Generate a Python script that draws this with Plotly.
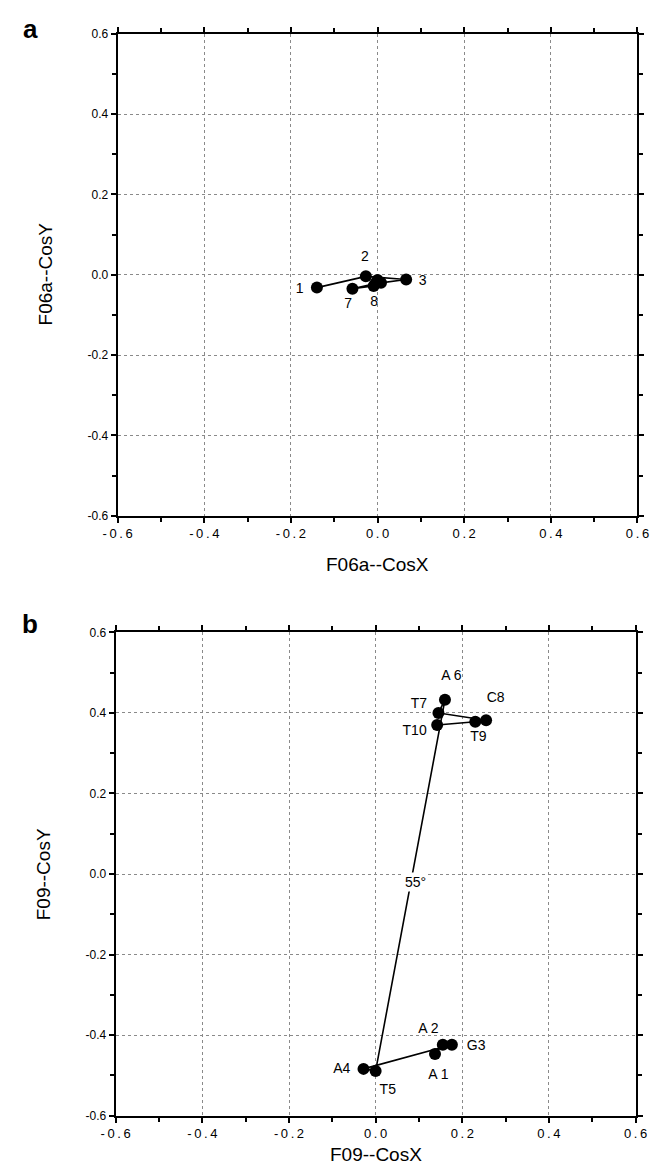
import plotly.graph_objects as go

# Panel a: F06a direction cosines, residues 1-8
a_labels = ["1", "2", "3", "4", "5", "6", "7", "8"]
a_x = [-0.140, -0.027, 0.066, 0.008, 0.000, -0.005, -0.058, -0.009]
a_y = [-0.032, -0.004, -0.012, -0.020, -0.013, -0.022, -0.035, -0.028]
a_shown = ["1", "2", "3", "7", "8"]
a_lab_x = [-0.180, -0.029, 0.104, -0.068, -0.008]
a_lab_y = [-0.037, 0.042, -0.017, -0.074, -0.070]

# Panel b: F09 direction cosines, residues A1-T10
b_labels = ["A 1", "A 2", "G3", "A4", "T5", "A 6", "T7", "C8", "T9", "T10"]
b_x = [0.137, 0.155, 0.176, -0.028, 0.000, 0.160, 0.145, 0.255, 0.230, 0.142]
b_y = [-0.447, -0.424, -0.424, -0.484, -0.489, 0.433, 0.400, 0.382, 0.378, 0.370]
b_lab_x = [0.145, 0.122, 0.232, -0.078, 0.028, 0.175, 0.100, 0.277, 0.237, 0.090]
b_lab_y = [-0.500, -0.387, -0.428, -0.486, -0.537, 0.490, 0.420, 0.435, 0.338, 0.355]
angle_text = "55°"
angle_x, angle_y = 0.093, -0.020

ticks = [-0.6, -0.4, -0.2, 0.0, 0.2, 0.4, 0.6]
tick_text = ["-0.6", "-0.4", "-0.2", "0.0", "0.2", "0.4", "0.6"]

W, H = 661, 1171
FONT = "Liberation Sans, Arial, sans-serif"

fig = go.Figure()

fig.add_trace(go.Scatter(x=a_x, y=a_y, mode="lines+markers",
                         line=dict(color="black", width=1.6),
                         marker=dict(color="black", size=12),
                         xaxis="x", yaxis="y", hoverinfo="skip", showlegend=False))
fig.add_trace(go.Scatter(x=a_lab_x, y=a_lab_y, mode="text", text=a_shown,
                         textfont=dict(family=FONT, size=14, color="black"),
                         xaxis="x", yaxis="y", hoverinfo="skip", showlegend=False))

fig.add_trace(go.Scatter(x=b_x, y=b_y, mode="lines+markers",
                         line=dict(color="black", width=1.6),
                         marker=dict(color="black", size=12),
                         xaxis="x2", yaxis="y2", hoverinfo="skip", showlegend=False))
fig.add_trace(go.Scatter(x=b_lab_x, y=b_lab_y, mode="text", text=b_labels,
                         textfont=dict(family=FONT, size=14, color="black"),
                         xaxis="x2", yaxis="y2", hoverinfo="skip", showlegend=False))


def px_x(p):
    return p / W


def px_y(p):
    return 1 - p / H


panels = {
    "a": dict(l=107, r=649, t=27, b=515),
    "b": dict(l=105, r=647, t=633, b=1122),
}

common = dict(range=[-0.6, 0.6], tickmode="array", tickvals=ticks,
              showline=True, linecolor="black", linewidth=2, mirror="ticks",
              ticks="outside", ticklen=5, tickwidth=1.5, tickcolor="black",
              minor=dict(dtick=0.1, ticks="outside", ticklen=4, tickwidth=1.5,
                         tickcolor="black", showgrid=False),
              showgrid=True, gridcolor="#8a8a8a", gridwidth=0.8, griddash="dot",
              zeroline=False, fixedrange=True)

for key, xa, ya in (("a", "xaxis", "yaxis"), ("b", "xaxis2", "yaxis2")):
    p = panels[key]
    xn = "x" if key == "a" else "x2"
    yn = "y" if key == "a" else "y2"
    fig.update_layout(**{
        xa: dict(common, domain=[px_x(p["l"]), px_x(p["r"])], anchor=yn,
                 ticktext=["\u2009".join(t) for t in tick_text],
                 tickfont=dict(family=FONT, size=13, color="black")),
        ya: dict(common, domain=[px_y(p["b"]), px_y(p["t"])], anchor=xn,
                 ticktext=tick_text,
                 tickfont=dict(family=FONT, size=12, color="black")),
    })


def title(text, x, y, angle=0, size=19):
    return dict(text=text, x=px_x(x), y=px_y(y), xref="paper", yref="paper",
                xanchor="center", yanchor="middle", textangle=angle,
                showarrow=False, font=dict(family=FONT, size=size, color="black"))


annotations = [
    title("<b>a</b>", 16, 22, size=26),
    title("<b>b</b>", 16, 624, size=26),
    title("F06a--CosX", 378, 564),
    title("F06a--CosY", 32, 270, angle=-90),
    title("F09--CosX", 376, 1161),
    title("F09--CosY", 30, 878, angle=-90),
    dict(text=angle_text, x=angle_x, y=angle_y, xref="x2", yref="y2",
         showarrow=False, bgcolor="white", borderpad=1,
         font=dict(family=FONT, size=14, color="black")),
]

fig.update_layout(width=W, height=H, margin=dict(l=0, r=0, t=0, b=0),
                  paper_bgcolor="white", plot_bgcolor="white",
                  annotations=annotations, showlegend=False)

fig.write_html("out.html")
